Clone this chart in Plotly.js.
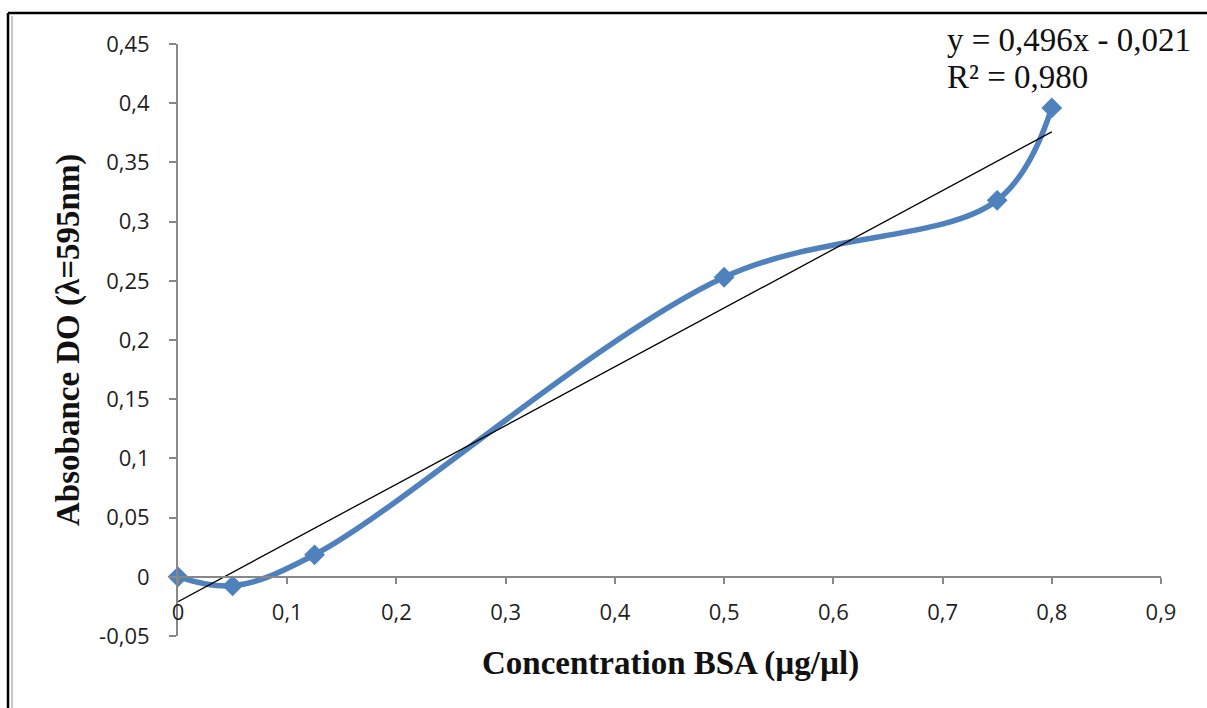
<!DOCTYPE html>
<html>
<head>
<meta charset="utf-8">
<script src="https://cdn.plot.ly/plotly-3.0.1.min.js"></script>
<style>html,body{margin:0;padding:0;background:#fff;}#chart{width:1207px;height:708px;}</style>
</head>
<body>
<div id="chart"></div>
<script>
const concentration = [0, 0.05, 0.125, 0.5, 0.75, 0.8];
const absorbance = [0, -0.0076, 0.0186, 0.253, 0.318, 0.396];
const trendSlope = 0.496;
const trendIntercept = -0.021;
const trendX = [0, 0.8];
const trendY = trendX.map(x => trendSlope * x + trendIntercept);
const xTicks = [0, 0.1, 0.2, 0.3, 0.4, 0.5, 0.6, 0.7, 0.8, 0.9];
const xTickLabels = ['0', '0,1', '0,2', '0,3', '0,4', '0,5', '0,6', '0,7', '0,8', '0,9'];
const yTicks = [-0.05, 0, 0.05, 0.1, 0.15, 0.2, 0.25, 0.3, 0.35, 0.4, 0.45];
const yTickLabels = ['-0,05', '0', '0,05', '0,1', '0,15', '0,2', '0,25', '0,3', '0,35', '0,4', '0,45'];

const W = 1207, H = 708, L = 178, R = 46, T = 44, B = 72;
const pw = W - L - R, ph = H - T - B;
const px = x => (x - L) / pw;
const py = y => (H - B - y) / ph;

const tickFont = {size: 22, color: '#1f1f1f', family: 'Open Sans, DejaVu Sans, sans-serif'};
const serif = 'Liberation Serif, Times New Roman, serif';

const data = [
  {
    x: concentration, y: absorbance, type: 'scatter', mode: 'lines+markers',
    line: {color: '#4F81BD', width: 5.5, shape: 'spline', smoothing: 1},
    marker: {symbol: 'diamond', size: 16, color: '#4F81BD'},
    cliponaxis: false, hoverinfo: 'skip', showlegend: false
  },
  {
    x: trendX, y: trendY, type: 'scatter', mode: 'lines',
    line: {color: '#000000', width: 1.3},
    cliponaxis: false, hoverinfo: 'skip', showlegend: false
  }
];

const layout = {
  width: W, height: H,
  margin: {l: L, r: R, t: T, b: B},
  paper_bgcolor: '#ffffff', plot_bgcolor: '#ffffff',
  font: {family: 'Open Sans, DejaVu Sans, sans-serif', size: 20, color: '#222'},
  xaxis: {
    range: [0, 0.9], tickvals: xTicks, ticktext: xTickLabels,
    showgrid: false, zeroline: false, showline: true, linecolor: '#888', linewidth: 2,
    ticks: 'outside', ticklen: 6, tickwidth: 2, tickcolor: '#888',
    anchor: 'free', position: 0.1, ticklabelstandoff: 10,
    tickfont: tickFont,
    title: {text: ''}
  },
  yaxis: {
    range: [-0.05, 0.45], tickvals: yTicks, ticktext: yTickLabels,
    showgrid: false, zeroline: false, showline: true, linecolor: '#888', linewidth: 2,
    ticks: 'outside', ticklen: 7, tickwidth: 2, tickcolor: '#888',
    ticklabelstandoff: 15,
    tickfont: tickFont,
    title: {text: ''}
  },
  annotations: [
    {xref: 'paper', yref: 'paper', x: px(670), y: py(663), xanchor: 'center', yanchor: 'middle',
     text: '<b>Concentration BSA (µg/µl)</b>', showarrow: false,
     font: {family: serif, size: 33, color: '#111'}},
    {xref: 'paper', yref: 'paper', x: px(68), y: py(340), xanchor: 'center', yanchor: 'middle',
     text: '<b>Absobance DO (λ=595nm)</b>', showarrow: false, textangle: -90,
     font: {family: serif, size: 33, color: '#111'}},
    {xref: 'paper', yref: 'paper', x: px(945), y: py(40), xanchor: 'left', yanchor: 'middle',
     text: 'y = 0,496x - 0,021', showarrow: false,
     font: {family: serif, size: 33, color: '#111'}},
    {xref: 'paper', yref: 'paper', x: px(945), y: py(77), xanchor: 'left', yanchor: 'middle',
     text: 'R² = 0,980', showarrow: false,
     font: {family: serif, size: 33, color: '#111'}}
  ],
  shapes: [
    {type: 'line', xref: 'paper', yref: 'paper', x0: px(8), x1: px(8), y0: py(13), y1: py(710), line: {color: '#000', width: 2.5}},
    {type: 'line', xref: 'paper', yref: 'paper', x0: px(8), x1: px(1210), y0: py(13), y1: py(13), line: {color: '#000', width: 2.5}},
    {type: 'line', xref: 'paper', yref: 'paper', x0: px(12), x1: px(12), y0: py(16), y1: py(710), line: {color: '#c8c8c8', width: 2}}
  ]
};

Plotly.newPlot('chart', data, layout, {displayModeBar: false, staticPlot: true});
</script>
</body>
</html>
